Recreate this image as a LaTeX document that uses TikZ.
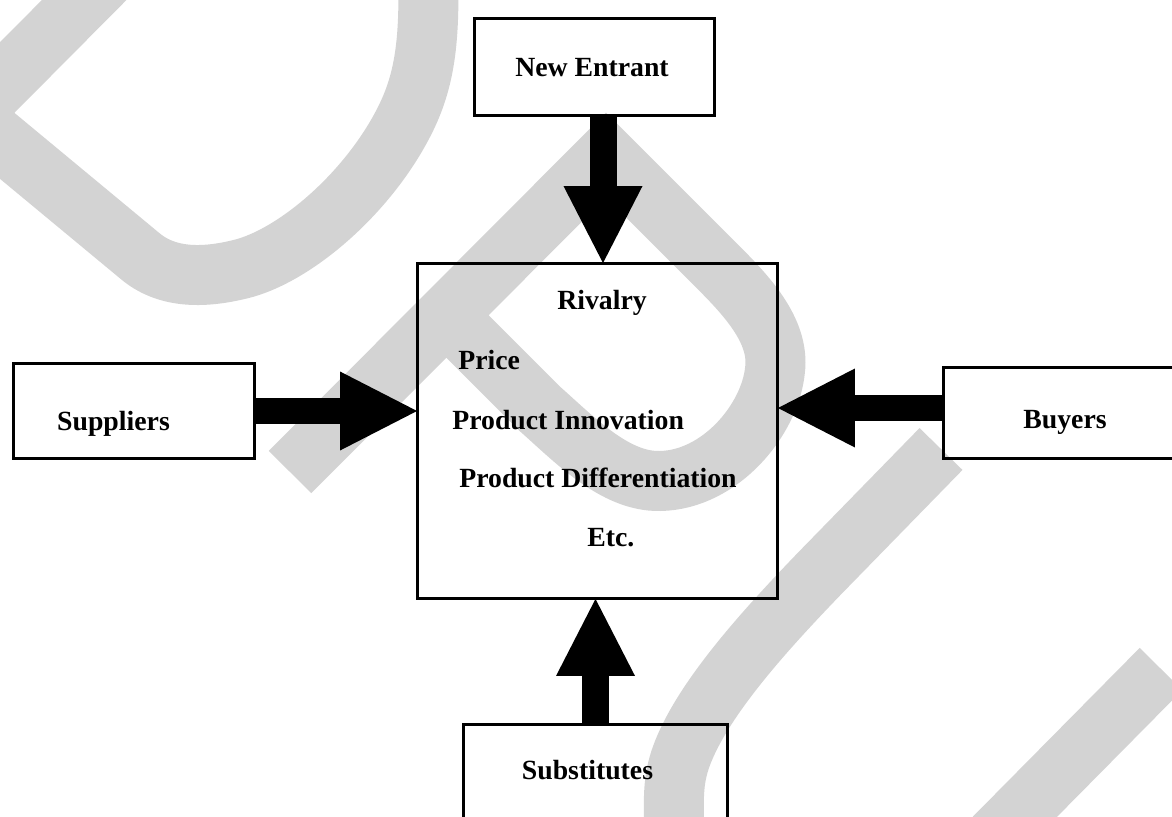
\documentclass[tikz,border=0pt]{standalone}
\usepackage{fontspec}
\setmainfont{Liberation Serif}
\usetikzlibrary{arrows.meta}
\usetikzlibrary{calc}
\definecolor{wmgray}{RGB}{211,211,211}
\tikzstyle{box}=[%
  draw,
  line width=0.06cm,
  inner sep=0pt,
  outer sep=0pt
]
\tikzstyle{force}=[%
  line width=0.54cm,
  -{Triangle[length=1.54cm, width=1.58cm, line width=0pt]}
]
\tikzstyle{wm}=[wmgray, line width=1.2cm, line join=miter]

\begin{document}
\begin{tikzpicture}[x=0.02cm, y=-0.02cm, font=\fontsize{15.8}{18}\selectfont\bfseries]
    \useasboundingbox (0,0) rectangle (1172,817);
    \clip (0,0) rectangle (1172,817);

    % watermark behind the chart
    \draw[wm] (114,-30) -- (-30,115) -- (140,256) .. controls (165,277) and (200,280) .. (245,268)
      .. controls (300,252) and (370,190) .. (405,120) .. controls (425,80) and (430,40) .. (428,-30);
    \draw[wm] (290,472) -- (606,155) -- (715,264) .. controls (745,294) and (780,330) .. (775,370)
      .. controls (770,420) and (720,480) .. (660,481) .. controls (615,482) and (575,440) .. (540,409) -- (446,315);
    \draw[wm] (941,449) -- (820,573) .. controls (770,625) and (700,700) .. (680,760)
      .. controls (672,785) and (674,800) .. (674,850);
    \draw[wm] (1161,669) -- (985,847);

    \node[box, minimum width=4.82cm, minimum height=1.96cm] (entrant) at (594.5,67) {};
    \node[box, minimum width=7.22cm, minimum height=6.72cm] (rivalry) at (597.5,431) {};
    \node[box, minimum width=4.84cm, minimum height=1.92cm] (suppliers) at (134,411) {};
    \node[box, minimum width=5.14cm, minimum height=1.84cm] (buyers) at (1071.5,413) {};
    \node[box, minimum width=5.3cm, minimum height=3.12cm] (substitutes) at (595.5,802) {};

    \coordinate (entrantout) at ([xshift=0.17cm]entrant.south);
    \coordinate (buyersout) at ([yshift=0.1cm]buyers.west);
    \draw[force] (entrantout) -- (entrantout |- rivalry.north);
    \draw[force] (suppliers.east) -- (suppliers.east -| rivalry.west);
    \draw[force] (buyersout) -- (buyersout -| rivalry.east);
    \draw[force] (substitutes.north) -- (substitutes.north |- rivalry.south);

    \node[anchor=base] (tentrant) at (592,77) {New Entrant};
    \node[anchor=base] (tsuppliers) at (113.5,430) {Suppliers};
    \node[anchor=base] (tbuyers) at (1065,428) {Buyers};
    \node[anchor=base] (tsubstitutes) at (587.5,779) {Substitutes};
    \node[anchor=base] (trivalry) at (602,310) {Rivalry};

    \foreach \name/\x/\y/\txt in {price/458/369/Price, innov/452/429/Product Innovation,
      diff/459/487/Product Differentiation, etc/587/546/Etc.} {%
      \node[anchor=base west, inner sep=0pt] (\name) at (\x,\y) {\txt};
    }
\end{tikzpicture}
\end{document}
